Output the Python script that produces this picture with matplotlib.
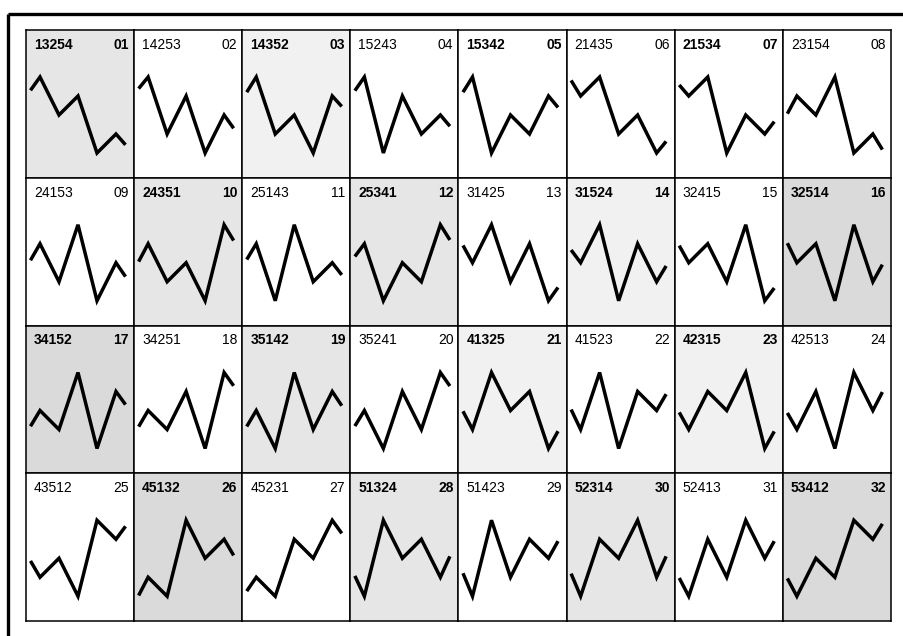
""" ZIGZAG PANELS
    -------------
    Grid of 32 small panels, one per up-down permutation of 12345.
"""


# -------------------------------------------------------------------------------
# 0. IMPORT LIBRARIES
# -------------------------------------------------------------------------------


import numpy as np
import matplotlib.pyplot as plt


# -------------------------------------------------------------------------------
# 1. DATA
# -------------------------------------------------------------------------------


# Permutation shown in each panel (1 = top level, 5 = bottom level)

labels = ['13254', '14253', '14352', '15243', '15342', '21435', '21534', '23154',
          '24153', '24351', '25143', '25341', '31425', '31524', '32415', '32514',
          '34152', '34251', '35142', '35241', '41325', '41523', '42315', '42513',
          '43512', '45132', '45231', '51324', '51423', '52314', '52413', '53412']

numbers = ['%02d' % (i + 1) for i in range(len(labels))]

# Level of the short lead-in and lead-out strokes

start_level = [1.70, 1.61, 1.80, 1.72, 1.80, 1.18, 1.42, 2.93,
               2.87, 2.94, 2.83, 2.67, 2.09, 2.33, 2.10, 1.97,
               3.83, 3.85, 3.84, 3.82, 3.04, 2.95, 3.10, 3.13,
               3.14, 4.96, 4.73, 3.93, 3.79, 3.81, 4.04, 4.06]

end_level = [4.57, 3.70, 2.55, 3.59, 2.60, 4.39, 3.35, 4.82,
             3.73, 1.83, 3.64, 1.80, 4.30, 3.17, 4.33, 3.10,
             2.69, 1.70, 2.75, 1.71, 4.09, 2.14, 4.10, 2.03,
             1.32, 2.85, 1.69, 2.90, 2.10, 2.90, 2.10, 1.19]

# Stippled background: 0 = none, 3 = dense

shade = [2, 0, 1, 0, 0, 0, 0, 0,
         0, 2, 0, 2, 0, 1, 0, 3,
         3, 0, 2, 0, 1, 0, 1, 0,
         0, 3, 0, 2, 0, 2, 0, 3]


# -------------------------------------------------------------------------------
# 2. LAYOUT
# -------------------------------------------------------------------------------


W, H = 904, 636
fig = plt.figure(figsize=(W / 100, H / 100), dpi=100)
plt.rcParams['font.family'] = ['Liberation Sans', 'DejaVu Sans']

# Outer frame (thick top and left rules)

bg = fig.add_axes([0, 0, 1, 1])
bg.set_xlim(0, W)
bg.set_ylim(H, 0)
bg.axis('off')
bg.plot([8, W], [14, 14], color='black', lw=2.4, solid_capstyle='butt')
bg.plot([8, 8], [14, H], color='black', lw=2.4, solid_capstyle='butt')

x0, x1 = 26, 891
y0, y1 = 30, 621
n_col, n_row = 8, 4
pw = (x1 - x0) / n_col
ph = (y1 - y0) / n_row

shade_colors = ['white', '#f1f1f1', '#e6e6e6', '#dadada']


# -------------------------------------------------------------------------------
# 3. PANELS
# -------------------------------------------------------------------------------


for k, lab in enumerate(labels):

    row, col = divmod(k, n_col)
    left = x0 + col * pw
    top = y0 + row * ph
    ax = fig.add_axes([left / W, 1 - (top + ph) / H, pw / W, ph / H])

    # panel coordinates: x = step index, y = level (inverted)
    ax.set_xlim(-14 / 19, -14 / 19 + pw / 19)
    ax.set_ylim(1 - 47 / 19 + ph / 19, 1 - 47 / 19)
    ax.set_xticks([])
    ax.set_yticks([])
    ax.set_facecolor(shade_colors[shade[k]])
    for sp in ax.spines.values():
        sp.set_linewidth(1.1)
        sp.set_color('black')

    levels = [int(c) for c in lab]
    xs = [-0.5] + list(range(5)) + [4.5]
    ys = [start_level[k]] + levels + [end_level[k]]
    ax.plot(xs, ys, color='black', lw=2.5, solid_joinstyle='miter', solid_capstyle='butt')

    weight = 'bold' if (row + col) % 2 == 0 else 'normal'
    ax.text(8 / pw, 1 - 15 / ph, lab, transform=ax.transAxes, ha='left', va='center',
            fontsize=10, fontweight=weight)
    ax.text(1 - 5 / pw, 1 - 15 / ph, numbers[k], transform=ax.transAxes, ha='right', va='center',
            fontsize=10, fontweight=weight)


# -------------------------------------------------------------------------------
# 4. SAVE
# -------------------------------------------------------------------------------


fig.savefig('out.png', dpi=100)
